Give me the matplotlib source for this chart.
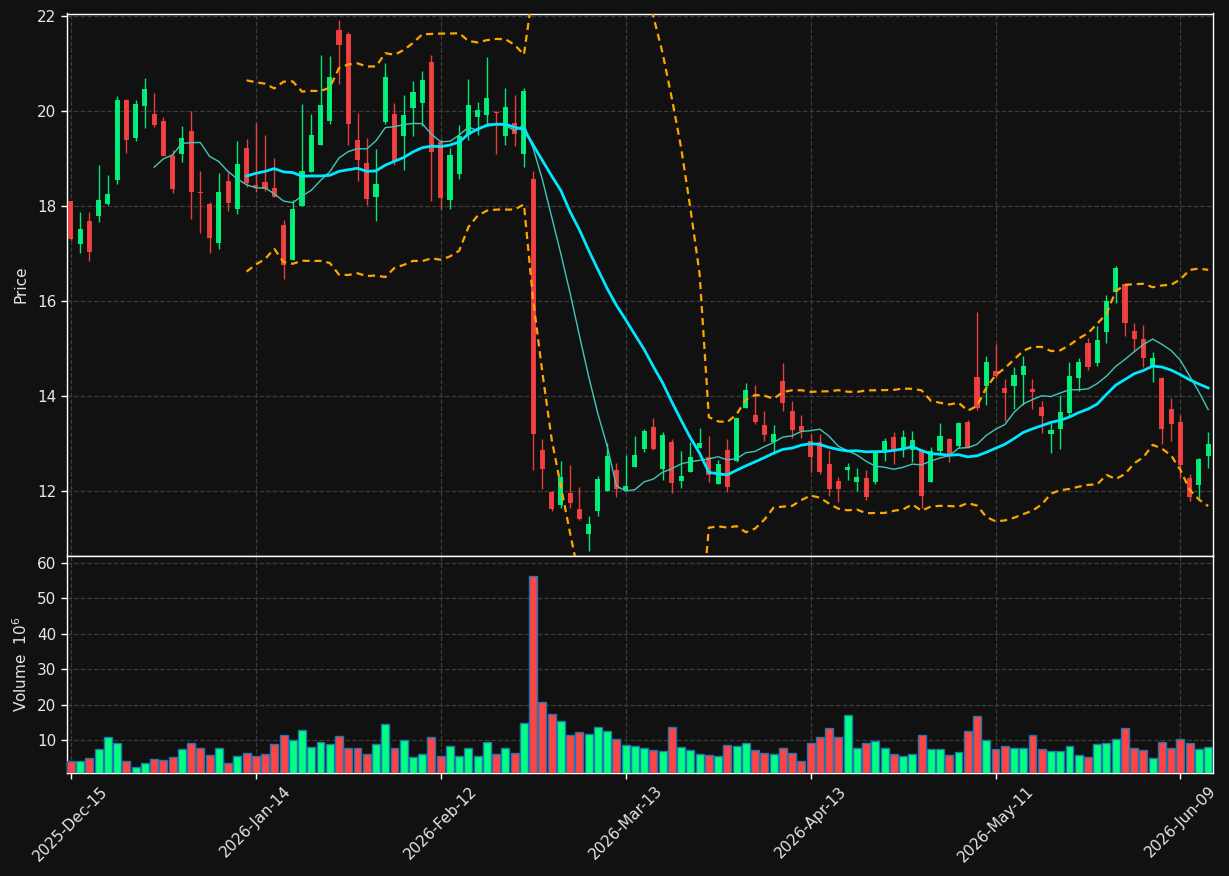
import numpy as np
import pandas as pd
import matplotlib
matplotlib.use("Agg")
import matplotlib.pyplot as plt

# ---------------- data ----------------
opens = [18.11, 17.21, 17.69, 17.80, 18.05, 18.55, 20.24, 19.44, 20.12, 19.95,
         19.80, 19.06, 19.10, 19.59, 18.30, 18.05, 17.23, 18.53, 17.95, 19.23,
         18.44, 18.51, 18.39, 17.61, 16.87, 18.01, 18.73, 19.30, 19.80, 21.71,
         21.63, 19.39, 18.91, 18.20, 19.78, 19.95, 19.49, 20.08, 20.18, 21.04,
         19.36, 18.14, 18.68, 19.50, 19.88, 19.93, 19.99, 19.49, 19.76, 19.10,
         18.57, 12.87, 11.99, 11.70, 11.96, 11.63, 11.10, 11.59, 12.01, 12.44,
         12.03, 12.52, 12.89, 13.35, 12.47, 13.03, 12.21, 12.40, 12.92, 12.72,
         12.16, 12.87, 12.63, 13.75, 13.60, 13.40, 13.03, 14.32, 13.69, 13.37,
         13.06, 13.03, 12.58, 12.21, 12.44, 12.20, 12.28, 12.20, 12.87, 13.15,
         12.92, 12.87, 12.86, 12.19, 12.84, 13.10, 12.95, 13.46, 14.41, 14.22,
         14.53, 14.17, 14.22, 14.45, 14.16, 13.77, 13.20, 13.31, 13.65, 14.39,
         15.12, 14.71, 15.35, 16.20, 16.36, 15.38, 15.21, 14.61, 14.38, 13.73,
         13.46, 12.28, 12.13, 12.74]
highs = [18.11, 17.89, 17.89, 18.86, 18.66, 20.32, 20.25, 20.23, 20.70, 20.38,
         19.88, 19.19, 19.69, 20.00, 18.74, 18.10, 18.70, 18.72, 19.37, 19.42,
         19.75, 19.51, 19.01, 17.72, 18.14, 20.15, 19.95, 21.19, 21.17, 21.93,
         21.67, 19.97, 19.43, 19.20, 21.02, 20.17, 20.34, 20.63, 20.84, 21.19,
         19.42, 19.22, 19.71, 20.69, 20.19, 21.14, 20.00, 20.49, 20.34, 20.49,
         18.74, 13.10, 12.00, 12.64, 12.55, 12.09, 11.48, 12.32, 13.02, 12.59,
         12.77, 13.17, 13.31, 13.54, 13.24, 13.09, 12.84, 13.03, 13.33, 13.17,
         12.66, 13.09, 13.55, 14.28, 14.23, 13.69, 13.40, 14.70, 13.89, 13.61,
         13.20, 13.20, 12.87, 12.30, 12.59, 12.48, 12.44, 12.86, 13.12, 13.24,
         13.29, 13.26, 12.88, 12.94, 13.44, 13.13, 13.46, 13.50, 15.77, 14.85,
         15.09, 14.36, 14.62, 14.85, 14.36, 13.91, 13.43, 14.03, 14.73, 14.80,
         15.23, 15.47, 16.14, 16.74, 16.37, 15.54, 15.49, 14.93, 14.40, 13.96,
         13.60, 12.36, 12.70, 13.25]
lows = [17.30, 17.02, 16.85, 17.66, 18.03, 18.46, 19.13, 19.37, 19.64, 19.66,
        19.06, 18.29, 18.94, 17.74, 17.43, 17.02, 17.11, 17.91, 17.83, 18.40,
        18.30, 18.32, 18.19, 16.46, 16.87, 18.01, 18.73, 19.30, 19.74, 20.57,
        19.30, 18.53, 18.03, 17.69, 19.74, 18.87, 18.76, 19.47, 19.70, 18.11,
        17.95, 17.95, 18.57, 19.39, 19.50, 19.73, 19.11, 19.29, 19.28, 18.83,
        12.44, 12.04, 11.59, 11.65, 11.65, 11.40, 10.74, 11.48, 12.01, 11.88,
        12.03, 12.52, 12.82, 12.87, 12.24, 11.96, 12.07, 12.40, 12.92, 12.20,
        12.16, 11.99, 12.62, 13.75, 13.42, 13.05, 12.79, 13.68, 13.13, 13.13,
        12.41, 12.37, 11.89, 11.78, 12.24, 12.00, 11.82, 12.15, 12.63, 12.57,
        12.72, 12.62, 11.64, 12.19, 12.79, 12.61, 12.90, 12.92, 13.70, 13.81,
        14.39, 13.47, 13.74, 13.81, 13.74, 13.22, 12.80, 12.88, 13.58, 14.11,
        14.56, 14.64, 15.12, 15.96, 15.26, 14.94, 14.61, 14.30, 13.00, 13.05,
        12.27, 11.79, 11.85, 12.48]
closes = [17.31, 17.52, 17.04, 18.13, 18.26, 20.24, 19.40, 20.15, 20.47, 19.71,
          19.06, 18.37, 19.44, 18.30, 18.29, 17.33, 18.30, 18.07, 18.89, 18.49,
          18.40, 18.37, 18.20, 16.76, 17.95, 18.74, 19.50, 20.14, 20.72, 21.40,
          19.74, 18.98, 18.16, 18.47, 20.72, 18.95, 19.92, 20.40, 20.66, 19.15,
          18.18, 19.08, 19.47, 20.13, 20.03, 20.28, 19.97, 20.09, 19.53, 20.43,
          13.20, 12.47, 11.63, 12.29, 11.76, 11.42, 11.31, 12.26, 12.74, 12.05,
          12.11, 12.76, 13.27, 12.88, 13.19, 12.18, 12.32, 12.72, 13.02, 12.35,
          12.57, 12.09, 13.54, 14.14, 13.46, 13.18, 13.20, 13.85, 13.29, 13.27,
          12.73, 12.41, 12.05, 12.04, 12.52, 12.29, 11.87, 12.81, 13.06, 12.84,
          13.15, 13.08, 11.89, 12.84, 13.17, 12.79, 13.44, 12.92, 13.75, 14.73,
          14.43, 14.07, 14.45, 14.64, 14.08, 13.59, 13.28, 13.67, 14.43, 14.73,
          14.62, 15.18, 16.01, 16.70, 15.55, 15.21, 14.81, 14.80, 13.32, 13.42,
          12.55, 11.87, 12.67, 13.00]
volumes = [4.07, 4.07, 4.92, 7.46, 10.85, 9.15, 4.07, 2.28, 3.50, 4.63,
           4.35, 5.20, 7.46, 9.15, 7.74, 5.76, 7.74, 3.50, 5.48, 6.33,
           5.48, 6.05, 8.87, 11.41, 10.00, 12.82, 8.02, 9.44, 8.87, 11.13,
           7.74, 7.74, 6.05, 8.87, 14.52, 7.74, 10.00, 5.20, 6.05, 10.85,
           5.48, 8.30, 5.48, 7.74, 5.48, 9.44, 6.05, 7.74, 6.33, 14.80,
           56.33, 20.73, 17.34, 15.37, 11.41, 12.26, 11.69, 13.67, 12.54, 10.28,
           8.59, 8.30, 7.74, 7.18, 6.89, 13.67, 8.02, 7.18, 6.05, 5.76,
           5.48, 8.59, 8.30, 9.15, 7.18, 6.33, 6.05, 7.74, 6.33, 4.07,
           9.15, 10.85, 13.39, 10.85, 17.06, 7.74, 9.15, 9.72, 7.74, 6.05,
           5.48, 6.05, 11.41, 7.46, 7.46, 5.76, 6.61, 12.54, 16.78, 10.00,
           7.46, 8.30, 7.74, 7.74, 11.41, 7.46, 6.89, 6.89, 8.30, 5.76,
           5.20, 8.87, 9.15, 10.28, 13.39, 7.74, 7.18, 4.92, 9.44, 7.74,
           10.28, 9.15, 7.46, 8.02]  # millions
tick_labels = ['2025-Dec-15', '2026-Jan-14', '2026-Feb-12', '2026-Mar-13',
               '2026-Apr-13', '2026-May-11', '2026-Jun-09']

# ---------------- style ----------------
BG = '#111111'
UP = '#00ff80'
DOWN = '#ff4444'
GRID = '#3c3c3c'
TXT = '#e6e6e6'

df = pd.DataFrame({'Open': opens, 'High': highs, 'Low': lows,
                   'Close': closes, 'Volume': volumes})
n = len(df)
x = np.arange(n)
up = df['Close'] >= df['Open']
cols = np.where(up, UP, DOWN)

mav10 = df['Close'].rolling(10).mean()
mav20 = df['Close'].rolling(20).mean()
std20 = df['Close'].rolling(20).std()
upper = mav20 + 2 * std20
lower = mav20 - 2 * std20

fig = plt.figure(figsize=(12.29, 8.76), dpi=100, facecolor=BG)
L, W = 66.7 / 1229, (1212.8 - 66.7) / 1229
ax = fig.add_axes([L, 1 - 555.8 / 876, W, (555.8 - 13.5) / 876])
axv = fig.add_axes([L, 1 - 773 / 876, W, (773 - 556) / 876], sharex=ax)

for a in (ax, axv):
    a.set_facecolor(BG)
    for s in a.spines.values():
        s.set_color('white')
        s.set_linewidth(1.0)
    a.tick_params(colors='white', labelcolor=TXT, labelsize=11, length=4, width=1)
    a.grid(True, color=GRID, linestyle='--', linewidth=0.9)
    a.set_axisbelow(True)

# candles
body_w = 0.55
ax.vlines(x, df['Low'], df['High'], colors=cols, linewidth=1.0, alpha=0.9, zorder=2)
bottoms = np.minimum(df['Open'], df['Close'])
heights = np.maximum(np.abs(df['Close'] - df['Open']), 0.02)
ax.bar(x, heights, bottom=bottoms, width=body_w, color=cols, alpha=0.9,
       linewidth=0, zorder=3)

# moving averages and bands
ax.plot(x, mav10, color='#3fc8b8', linewidth=1.0, zorder=4)
ax.plot(x, mav20, color='#00e8ff', linewidth=2.0, zorder=4)
ax.plot(x, upper, color='#ffa500', linewidth=1.6, linestyle=(0, (3.2, 2.2)), zorder=4)
ax.plot(x, lower, color='#ffa500', linewidth=1.6, linestyle=(0, (3.2, 2.2)), zorder=4)

ax.set_ylim(10.64, 22.06)
ax.set_yticks([12, 14, 16, 18, 20, 22])
ax.set_ylabel('Price', color=TXT, fontsize=11)
ax.tick_params(axis='x', labelbottom=False)

# volume
axv.bar(x, df['Volume'], width=0.86, color=cols, edgecolor='#1f77b4',
        linewidth=1.0, zorder=3)
axv.set_ylim(0.3 * min(volumes), 1.1 * max(volumes))
axv.set_yticks([10, 20, 30, 40, 50, 60])
axv.set_ylabel('Volume  $10^{6}$', color=TXT, fontsize=11)

tick_pos = np.arange(0, n, 20)[:len(tick_labels)]
axv.set_xticks(tick_pos)
axv.set_xticklabels(tick_labels, rotation=45, ha='center')
axv.set_xlim(-0.45, n - 0.5)

ax.yaxis.set_label_coords(-0.0336, 0.5)
axv.yaxis.set_label_coords(-0.0318, 0.5)

fig.savefig('out.png', dpi=100, facecolor=BG)
